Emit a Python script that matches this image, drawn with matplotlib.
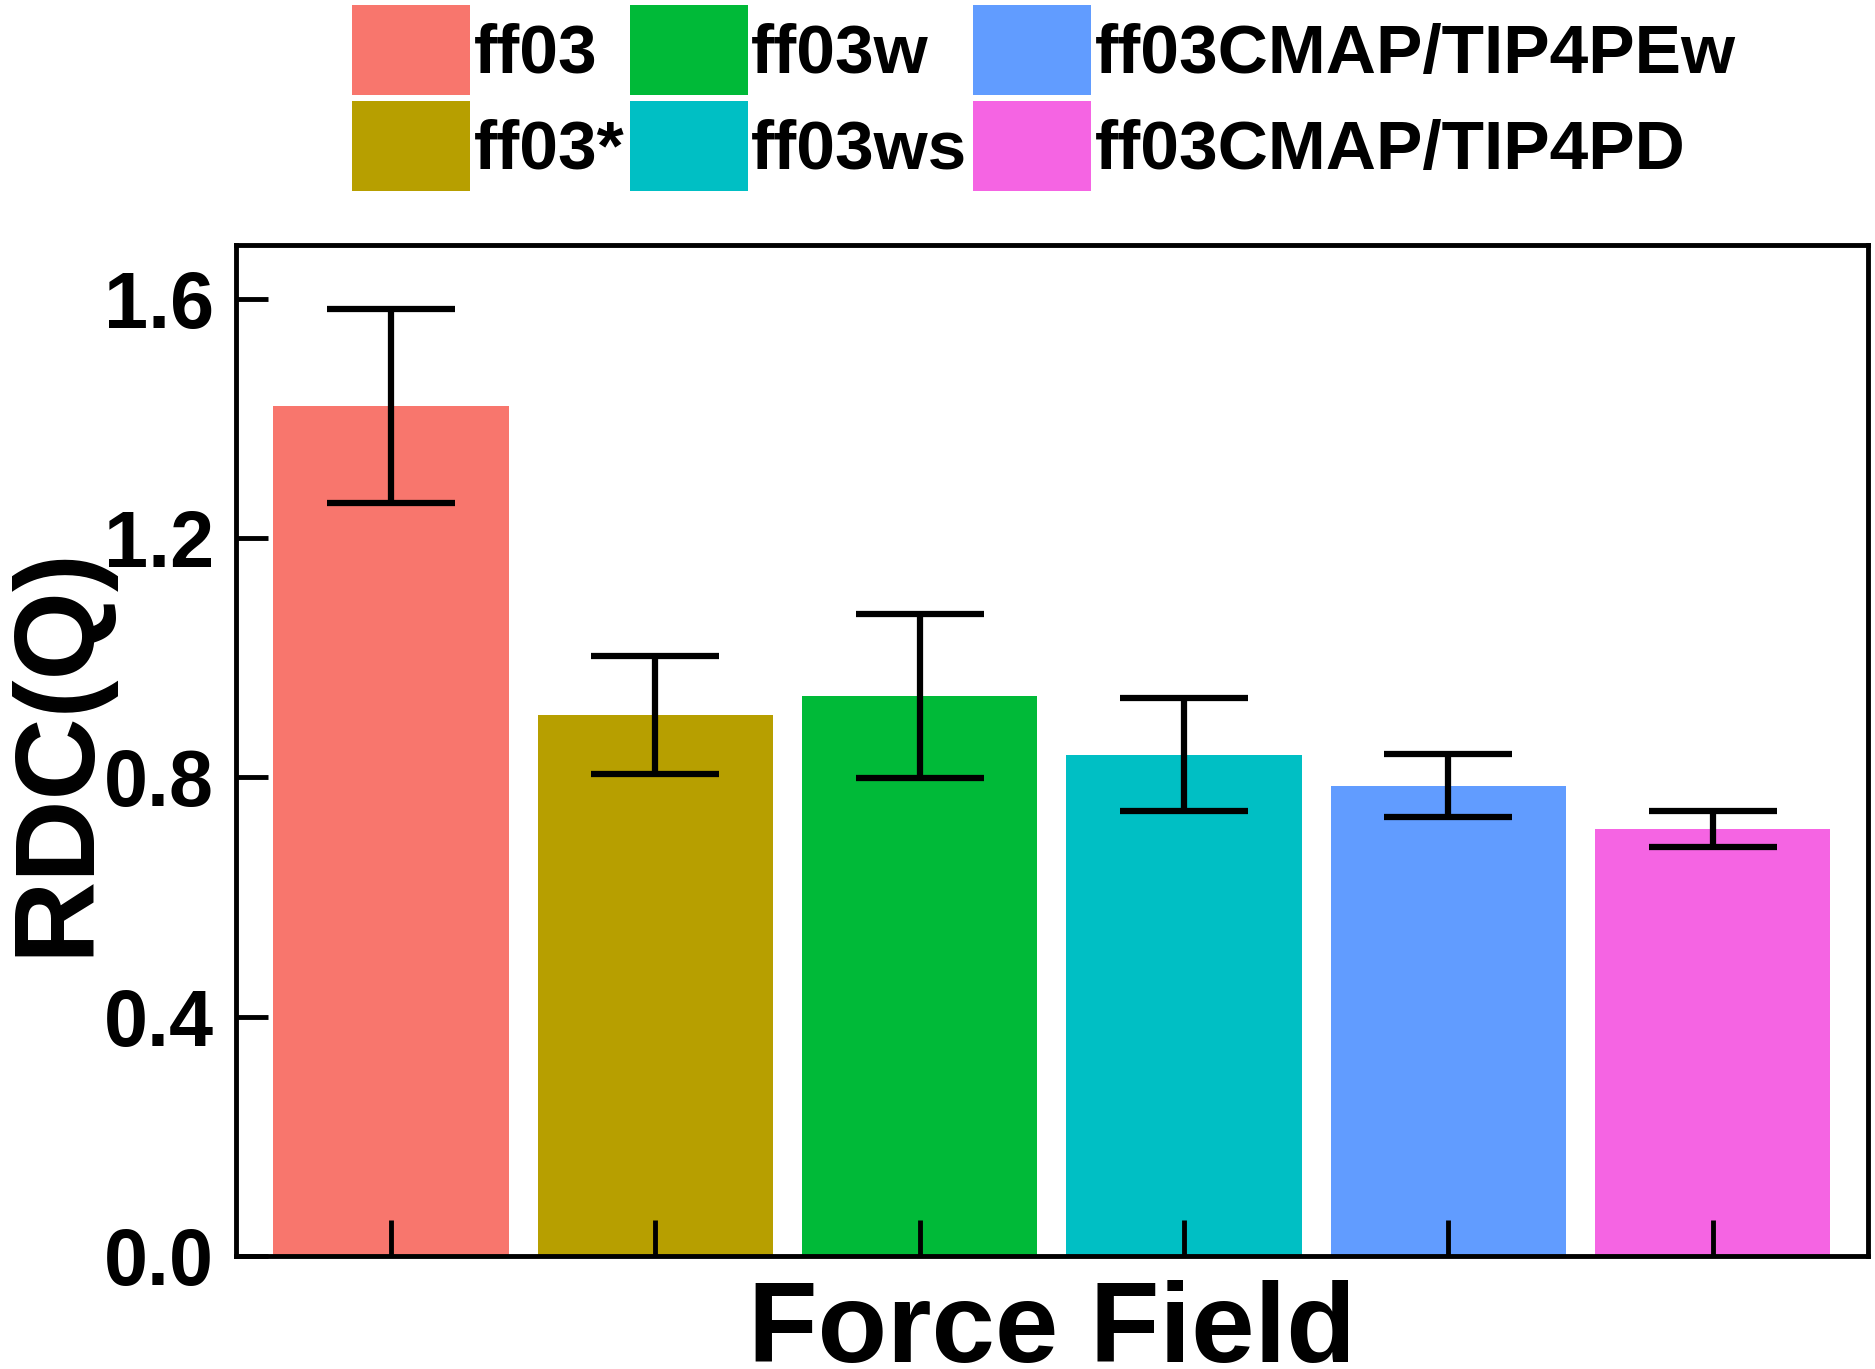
import matplotlib
matplotlib.use("Agg")
import matplotlib.pyplot as plt
from matplotlib.patches import Patch

categories = ["ff03", "ff03*", "ff03w", "ff03ws", "ff03CMAP/TIP4PEw", "ff03CMAP/TIP4PD"]
values = [1.421, 0.904, 0.936, 0.838, 0.786, 0.713]
errors = [0.162, 0.099, 0.137, 0.095, 0.053, 0.030]
colors = ["#F8766D", "#B79F00", "#00BA38", "#00BFC4", "#619CFF", "#F564E3"]
yticks = [0.0, 0.4, 0.8, 1.2, 1.6]

plt.rcParams['font.family'] = ['Liberation Sans', 'DejaVu Sans']
plt.rcParams['font.weight'] = 'bold'

fig = plt.figure(figsize=(18.75, 13.69), dpi=100)
ax = fig.add_axes([0.126, 0.0826, 0.870, 0.7384])

x = list(range(len(categories)))
ax.bar(x, values, width=0.89, color=colors, edgecolor='none', zorder=1)
ax.errorbar(x, values, yerr=errors, fmt='none', ecolor='black', elinewidth=4.5,
            capsize=46, capthick=4.5, zorder=3)

ax.set_xlim(-0.585, 5.585)
ax.set_ylim(0, 1.69)
ax.set_yticks(yticks)
ax.set_yticklabels([f"{v:.1f}" for v in yticks])
ax.set_xticks(x)
ax.set_xticklabels([])
ax.tick_params(axis='y', direction='in', length=23, width=3.5, labelsize=57, pad=16)
ax.tick_params(axis='x', direction='in', length=26, width=3.5)
for lab in ax.get_yticklabels():
    lab.set_fontweight('bold')
for s in ax.spines.values():
    s.set_linewidth(3.5)

ax.set_xlabel("Force Field", fontsize=82, fontweight='bold')
ax.xaxis.set_label_coords(0.5, -0.1045)
ax.xaxis.label.set_verticalalignment('baseline')

ax.set_ylabel("RDC(Q)", fontsize=82, fontweight='bold')
ax.yaxis.set_label_coords(-0.0914, 0.5)
ax.yaxis.label.set_verticalalignment('baseline')

handles = [Patch(facecolor=c, edgecolor='none') for c in colors]
fig.legend(handles, categories, loc='upper left', bbox_to_anchor=(0.1877, 0.9963),
           ncol=3, frameon=False, handlelength=1.7, handleheight=1.62,
           handletextpad=0.05, columnspacing=0.08, labelspacing=0.08,
           borderaxespad=0.0, borderpad=0.0, prop={'weight': 'bold', 'size': 50})

fig.savefig("out.png", dpi=100)
